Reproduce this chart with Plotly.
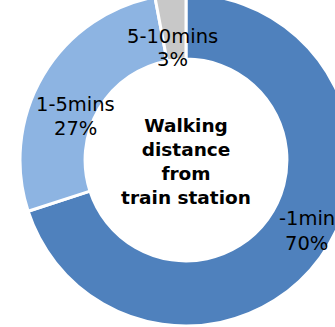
import plotly.graph_objects as go

# ---- data ----
labels = ["-1min", "1-5mins", "5-10mins"]
values = [70, 27, 3]
colors = ["#4F81BD", "#8DB4E2", "#C8C8C8"]
center_title = ["Walking", "distance", "from", "train station"]

# ---- layout constants ----
W, H = 352, 332
SHIFT = 6  # page offset (px) so that the ring is cropped at the top like the original
FS = 19.5

# label placement (page px): centre x, baseline of name line, baseline of percent line
label_place = [(306.5, 225.7, 250.0), (75.0, 111.7, 135.0), (172.5, 43.0, 66.0)]


def fx(px):
    return px / W


def fy(py):
    return 1 - (py + SHIFT) / H


fig = go.Figure(
    go.Pie(
        labels=labels,
        values=values,
        sort=False,
        direction="clockwise",
        rotation=0,
        hole=0.608,
        marker=dict(colors=colors, line=dict(color="white", width=3)),
        textinfo="none",
        hoverinfo="label+percent",
        showlegend=False,
        domain=dict(x=[20 / W, 1], y=[0, 1]),
        title=dict(
            text="<br>".join("<b>%s</b>" % t for t in center_title),
            position="middle center",
            font=dict(family="DejaVu Sans", size=18.5, color="#000000"),
        ),
    )
)

annotations = []
for lab, val, (cx, b1, b2) in zip(labels, values, label_place):
    for txt, base in ((lab, b1), ("%d%%" % val, b2)):
        annotations.append(
            dict(
                text=txt,
                x=fx(cx),
                y=fy(base - 0.346 * FS),
                xref="paper",
                yref="paper",
                xanchor="center",
                yanchor="middle",
                showarrow=False,
                font=dict(family="DejaVu Sans", size=FS, color="#000000"),
            )
        )

fig.update_layout(
    width=W,
    height=H,
    margin=dict(l=0, r=0, t=0, b=0),
    paper_bgcolor="white",
    plot_bgcolor="white",
    annotations=annotations,
)

post = (
    "document.body.style.margin='0';"
    "document.body.style.overflow='hidden';"
    "document.getElementById('{plot_id}').style.marginTop='-%dpx';" % SHIFT
)
fig.write_html("out.html", post_script=post, config={"displayModeBar": False})
